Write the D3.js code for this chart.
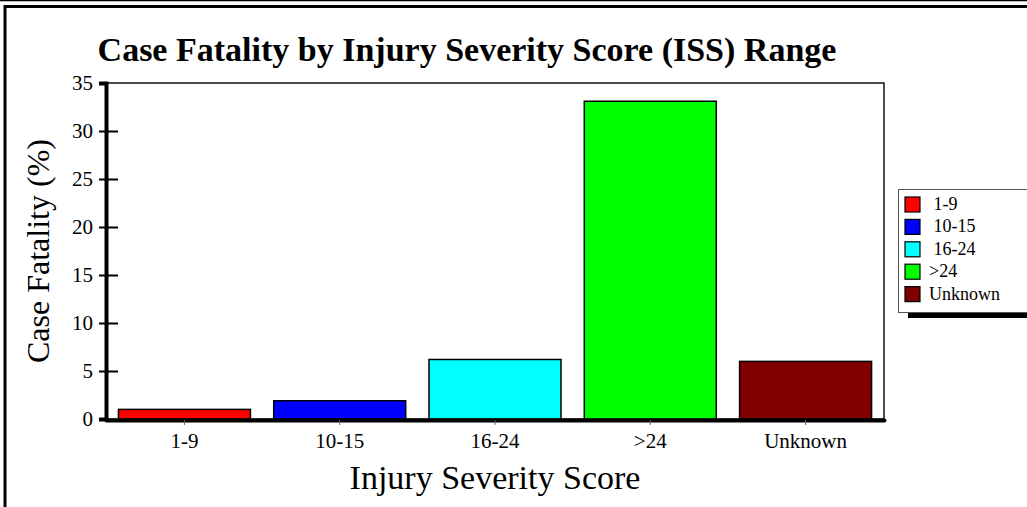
<!DOCTYPE html>
<html>
<head>
<meta charset="utf-8">
<script src="https://cdn.jsdelivr.net/npm/d3@7"></script>
<style>
  body { margin: 0; background: #fff; }
  svg text { font-family: "Liberation Serif", "Times New Roman", serif; }
</style>
</head>
<body>
<div class="chart"></div>
<script>
const categories = ['1-9', '10-15', '16-24', '>24', 'Unknown'];
const fatality = [1.0, 1.9, 6.2, 33.1, 6.0];
const barColors = ['#ff0000', '#0000ff', '#00ffff', '#00ff00', '#800000'];
const legendLabels = [' 1-9', ' 10-15', ' 16-24', '>24', 'Unknown'];
const yTicks = [0, 5, 10, 15, 20, 25, 30, 35];

const width = 1027, height = 507;
const plot = { left: 106, right: 884, top: 83, bottom: 419 };

const svg = d3.select('.chart')
  .append('svg')
  .attr('width', width)
  .attr('height', height);

// outer frame (double line at top, thick line left)
svg.append('line')
  .attr('x1', 0).attr('x2', width).attr('y1', 0.5).attr('y2', 0.5)
  .attr('stroke', '#000').attr('stroke-width', 1.5);
svg.append('rect')
  .attr('x', 5).attr('y', 6.5)
  .attr('width', width + 20).attr('height', height + 20)
  .attr('fill', 'none').attr('stroke', '#000').attr('stroke-width', 3);

const x = d3.scaleBand()
  .domain(categories)
  .range([plot.left, plot.right])
  .paddingInner(0.15)
  .paddingOuter(0.08);

const y = d3.scaleLinear()
  .domain([0, 35])
  .range([plot.bottom, plot.top]);

// plot frame
svg.append('rect')
  .attr('x', plot.left).attr('y', plot.top)
  .attr('width', plot.right - plot.left).attr('height', plot.bottom - plot.top)
  .attr('fill', '#fff').attr('stroke', '#111').attr('stroke-width', 1.5);

// bars
svg.selectAll('rect.bar')
  .data(fatality)
  .enter()
  .append('rect')
  .attr('class', 'bar')
  .attr('x', (d, i) => x(categories[i]))
  .attr('y', d => y(d))
  .attr('width', x.bandwidth())
  .attr('height', d => y(0) - y(d))
  .attr('fill', (d, i) => barColors[i])
  .attr('stroke', '#000')
  .attr('stroke-width', 1.5);

// y axis
const yAxis = d3.axisLeft(y).tickValues(yTicks).tickSize(7).tickPadding(5);
const yg = svg.append('g')
  .attr('transform', 'translate(' + plot.left + ',0)')
  .call(yAxis);
yg.select('.domain').attr('stroke', '#000').attr('stroke-width', 4);
yg.selectAll('.tick line')
  .attr('x1', 12).attr('x2', -7)
  .attr('stroke-width', 2)
  .filter(d => d === 35 || d === 0).remove();
yg.selectAll('.tick text')
  .attr('x', -13)
  .attr('font-size', 21)
  .attr('fill', '#000');

// x axis
const xAxis = d3.axisBottom(x).tickSize(5).tickPadding(8).tickSizeOuter(0);
const xg = svg.append('g')
  .attr('transform', 'translate(0,' + (plot.bottom + 1) + ')')
  .call(xAxis);
xg.select('.domain').attr('stroke', '#000').attr('stroke-width', 4).attr('stroke-linecap', 'round');
xg.selectAll('.tick line').attr('stroke', '#666').attr('stroke-width', 1);
xg.selectAll('.tick text')
  .attr('font-size', 21)
  .attr('fill', '#000');

// title & axis labels
svg.append('text')
  .attr('x', 467).attr('y', 61)
  .attr('text-anchor', 'middle')
  .attr('font-size', 34)
  .attr('font-weight', 'bold')
  .text('Case Fatality by Injury Severity Score (ISS) Range');

svg.append('text')
  .attr('transform', 'translate(49,' + ((plot.top + plot.bottom) / 2) + ') rotate(-90)')
  .attr('text-anchor', 'middle')
  .attr('font-size', 32)
  .text('Case Fatality (%)');

svg.append('text')
  .attr('x', (plot.left + plot.right) / 2).attr('y', 489)
  .attr('text-anchor', 'middle')
  .attr('font-size', 34)
  .text('Injury Severity Score');

// legend
const lg = svg.append('g').attr('transform', 'translate(898,189)');
lg.append('rect')
  .attr('x', 10).attr('y', 123)
  .attr('width', 200).attr('height', 6)
  .attr('fill', '#000');
lg.append('rect')
  .attr('x', 0.5).attr('y', 0.5)
  .attr('width', 200).attr('height', 123)
  .attr('fill', '#fff').attr('stroke', '#555').attr('stroke-width', 1);

const items = lg.selectAll('g.item')
  .data(legendLabels)
  .enter()
  .append('g')
  .attr('class', 'item')
  .attr('transform', (d, i) => 'translate(7,' + (8 + i * 22.4) + ')');
items.append('rect')
  .attr('width', 15).attr('height', 15)
  .attr('fill', (d, i) => barColors[i])
  .attr('stroke', '#000').attr('stroke-width', 1.2);
items.append('text')
  .attr('x', 24).attr('y', 13)
  .attr('font-size', 18)
  .style('white-space', 'pre')
  .text(d => d);
</script>
</body>
</html>
